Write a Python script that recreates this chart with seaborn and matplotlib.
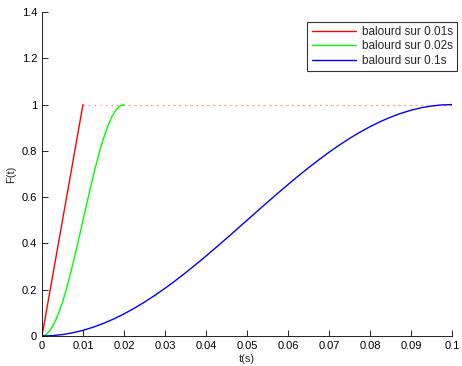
import matplotlib
matplotlib.use("Agg")
import matplotlib.pyplot as plt
import seaborn as sns

# values
t_red = [0, 0.01]
f_red = [0, 1]

t_green = [0, 0.001, 0.002, 0.003, 0.004, 0.005, 0.006, 0.007, 0.008, 0.009, 0.010,
           0.011, 0.012, 0.013, 0.014, 0.015, 0.016, 0.017, 0.018, 0.019, 0.020]
f_green = [0, 0.006, 0.025, 0.055, 0.096, 0.146, 0.206, 0.273, 0.346, 0.422, 0.500,
           0.578, 0.655, 0.727, 0.794, 0.854, 0.905, 0.946, 0.976, 0.994, 1.0]

t_blue = [0, 0.0025, 0.005, 0.0075, 0.010, 0.0125, 0.015, 0.0175, 0.020, 0.0225,
          0.025, 0.0275, 0.030, 0.0325, 0.035, 0.0375, 0.040, 0.0425, 0.045, 0.0475,
          0.050, 0.0525, 0.055, 0.0575, 0.060, 0.0625, 0.065, 0.0675, 0.070, 0.0725,
          0.075, 0.0775, 0.080, 0.0825, 0.085, 0.0875, 0.090, 0.0925, 0.095, 0.0975, 0.100]
f_blue = [0, 0.0015, 0.0062, 0.0138, 0.0245, 0.0381, 0.0545, 0.0737, 0.0955, 0.1198,
          0.1464, 0.1753, 0.2061, 0.2388, 0.2730, 0.3087, 0.3455, 0.3833, 0.4218, 0.4608,
          0.5, 0.5392, 0.5782, 0.6167, 0.6545, 0.6913, 0.7270, 0.7612, 0.7939, 0.8247,
          0.8536, 0.8802, 0.9045, 0.9263, 0.9455, 0.9619, 0.9755, 0.9862, 0.9938, 0.9985, 1.0]

# flat part after the ramp (dotted)
t_red_hold = [0.01, 0.1]
t_green_hold = [0.02, 0.1]
f_hold = [1, 1]

labels = ["balourd sur 0.01s", "balourd sur 0.02s", "balourd sur 0.1s"]
colors = ["red", "#00ff00", "blue"]

xticks = [0, 0.01, 0.02, 0.03, 0.04, 0.05, 0.06, 0.07, 0.08, 0.09, 0.1]
xtick_labels = ["0", "0.01", "0.02", "0.03", "0.04", "0.05", "0.06", "0.07", "0.08", "0.09", "0.1"]
yticks = [0, 0.2, 0.4, 0.6, 0.8, 1, 1.2, 1.4]
ytick_labels = ["0", "0.2", "0.4", "0.6", "0.8", "1", "1.2", "1.4"]

sns.set_style("ticks")
plt.rcParams["font.family"] = ["Liberation Sans", "DejaVu Sans"]

fig = plt.figure(figsize=(4.62, 3.66), dpi=100)
ax = fig.add_axes([42/462, 30/366, 410/462, 324/366])

sns.lineplot(x=t_red_hold, y=f_hold, color=colors[0], linestyle=(0, (1, 3.5)), lw=0.9, alpha=0.45, ax=ax)
sns.lineplot(x=t_green_hold, y=f_hold, color="#88aa00", linestyle=(0, (1, 3.5)), lw=0.9, alpha=0.5, ax=ax)
sns.lineplot(x=t_red, y=f_red, color=colors[0], lw=1, ax=ax, label=labels[0])
sns.lineplot(x=t_green, y=f_green, color=colors[1], lw=1, ax=ax, label=labels[1])
sns.lineplot(x=t_blue, y=f_blue, color=colors[2], lw=1, ax=ax, label=labels[2])

ax.set_xlim(0, 0.1)
ax.set_ylim(0, 1.4)
ax.set_xticks(xticks)
ax.set_xticklabels(xtick_labels)
ax.set_yticks(yticks)
ax.set_yticklabels(ytick_labels)
ax.tick_params(direction="in", length=4, width=0.6, labelsize=8, colors="black")
ax.spines["top"].set_visible(False)
ax.spines["right"].set_visible(False)
for s in ["left", "bottom"]:
    ax.spines[s].set_linewidth(0.6)
    ax.spines[s].set_color("black")
ax.set_xlabel("t(s)", fontsize=8, labelpad=2)
ax.set_ylabel("F(t)", fontsize=8, labelpad=4)

leg = ax.legend(loc="upper right", bbox_to_anchor=(457/462, 1 - 22/366),
                bbox_transform=fig.transFigure, fontsize=8.5, frameon=True,
                fancybox=False, handlelength=3.8, borderpad=0.35, labelspacing=0.2,
                handletextpad=0.45, borderaxespad=0)
leg.get_frame().set_edgecolor("black")
leg.get_frame().set_linewidth(0.8)

fig.savefig("out.png", dpi=100)
